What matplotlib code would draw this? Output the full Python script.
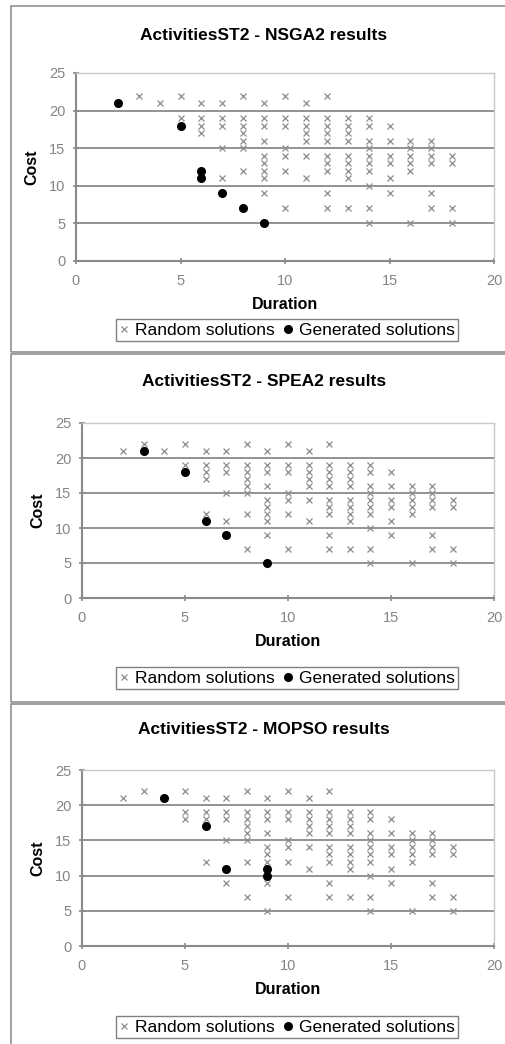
import matplotlib
matplotlib.use("Agg")
import matplotlib.pyplot as plt
from matplotlib.patches import Rectangle

plt.rcParams['font.family'] = ['Liberation Sans', 'DejaVu Sans']

# random solutions (same set in all three charts)
rand_x = [2, 3, 4,
          5, 5, 5,
          6, 6, 6, 6, 6,
          7, 7, 7, 7, 7, 7,
          8, 8, 8, 8, 8, 8, 8, 8,
          9, 9, 9, 9, 9, 9, 9, 9, 9, 9,
          10, 10, 10, 10, 10, 10, 10,
          11, 11, 11, 11, 11, 11, 11,
          12, 12, 12, 12, 12, 12, 12, 12, 12, 12,
          13, 13, 13, 13, 13, 13, 13, 13, 13,
          14, 14, 14, 14, 14, 14, 14, 14, 14, 14,
          15, 15, 15, 15, 15, 15,
          16, 16, 16, 16, 16, 16,
          17, 17, 17, 17, 17, 17,
          18, 18, 18, 18]
rand_y = [21, 22, 21,
          22, 19, 18,
          21, 19, 18, 17, 12,
          21, 19, 18, 15, 11, 9,
          22, 19, 18, 17, 16, 15, 12, 7,
          21, 19, 18, 16, 14, 13, 12, 11, 9, 5,
          22, 19, 18, 15, 14, 12, 7,
          21, 19, 18, 17, 16, 14, 11,
          22, 19, 18, 17, 16, 14, 13, 12, 9, 7,
          19, 18, 17, 16, 14, 13, 12, 11, 7,
          19, 18, 16, 15, 14, 13, 12, 10, 7, 5,
          18, 16, 14, 13, 11, 9,
          16, 15, 14, 13, 12, 5,
          16, 15, 14, 13, 9, 7,
          14, 13, 7, 5]

titles = ["ActivitiesST2 - NSGA2 results",
          "ActivitiesST2 - SPEA2 results",
          "ActivitiesST2 - MOPSO results"]
nsga2_x = [2, 5, 6, 6, 7, 8, 9]
nsga2_y = [21, 18, 12, 11, 9, 7, 5]
spea2_x = [3, 5, 6, 7, 9]
spea2_y = [21, 18, 11, 9, 5]
mopso_x = [4, 6, 7, 9, 9]
mopso_y = [21, 17, 11, 11, 10]
gen = [(nsga2_x, nsga2_y), (spea2_x, spea2_y), (mopso_x, mopso_y)]

W, H = 505, 1044
fig = plt.figure(figsize=(W / 100, H / 100), dpi=100)

# pixel layout: (panel top, panel bottom, axes left, axes top, axes bottom, title y, legend top)
panels = [(6, 352, 76, 73, 261, 35, 319),
          (354, 702, 82, 423, 598, 382, 667),
          (704, 1050, 82, 770, 946, 729, 1016)]
ax_right = 494

for i in range(3):
    ptop, pbot, aleft, atop, abot, ty, ltop = panels[i]
    # panel frame
    fig.patches.append(Rectangle((11 / W, 1 - pbot / H), 1 - 11 / W + 0.01, (pbot - ptop) / H,
                                 transform=fig.transFigure, fill=False,
                                 edgecolor='#909090', linewidth=1.2))
    ax = fig.add_axes([aleft / W, 1 - abot / H, (ax_right - aleft) / W, (abot - atop) / H])
    ax.set_xlim(0, 20)
    ax.set_ylim(0, 25)
    ax.set_xticks([0, 5, 10, 15, 20])
    ax.set_yticks([0, 5, 10, 15, 20, 25])
    for yv in [5, 10, 15, 20]:
        ax.axhline(yv, color='#808080', linewidth=1.2, zorder=1)
    for s in ['top', 'right']:
        ax.spines[s].set_color('#c8c8c8')
        ax.spines[s].set_linewidth(1.0)
    for s in ['left', 'bottom']:
        ax.spines[s].set_color('#8a8a8a')
        ax.spines[s].set_linewidth(1.5)
    ax.tick_params(direction='inout', length=5, width=1.2, color='#8a8a8a',
                   labelcolor='#858585', labelsize=10.5)
    ax.tick_params(axis='x', pad=7)
    ax.tick_params(axis='y', pad=5)
    ax.plot(rand_x, rand_y, linestyle='none', marker='x', color='#8c8c8c',
            markersize=4, markeredgewidth=0.9, label='Random solutions', zorder=3)
    ax.plot(gen[i][0], gen[i][1], linestyle='none', marker='o', color='black',
            markersize=5.5, label='Generated solutions', zorder=4)
    fig.text(264 / W, 1 - ty / H, titles[i], fontsize=12.5, fontweight='bold',
             ha='center', va='center')
    ax.set_xlabel('Duration', fontsize=11.5, fontweight='bold', labelpad=6)
    ax.set_ylabel('Cost', fontsize=11.5, fontweight='bold', labelpad=7)
    leg = ax.legend(loc='upper center', bbox_to_anchor=(287 / W, 1 - ltop / H),
                    bbox_transform=fig.transFigure, ncol=2,
                    fontsize=12.5, frameon=True, fancybox=False, handlelength=0.6,
                    handletextpad=0.3, columnspacing=0.5, borderpad=0.2,
                    borderaxespad=0)
    leg.get_frame().set_edgecolor('#606060')
    leg.get_frame().set_linewidth(1.0)

fig.savefig('out.png', dpi=100)
